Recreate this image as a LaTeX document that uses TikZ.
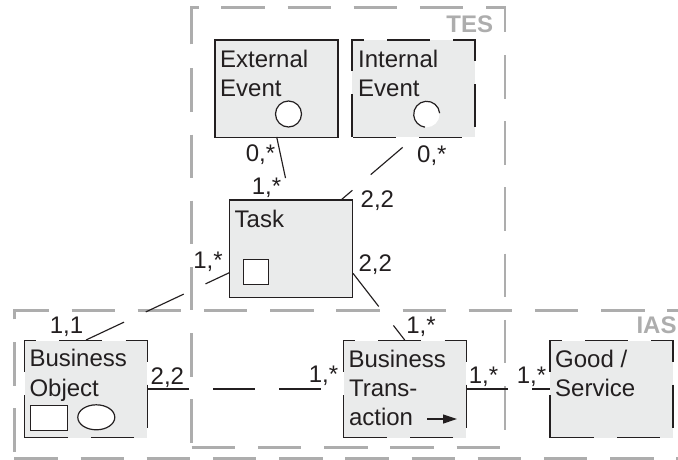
\documentclass[tikz,border=0pt]{standalone}
\usepackage{fontspec}
\setmainfont{Liberation Sans}
\usetikzlibrary{arrows.meta,shapes.geometric}
\definecolor{boxfill}{HTML}{EAEBEB}
\definecolor{zone}{HTML}{ADADAD}
\definecolor{ink}{HTML}{231F20}
\tikzset{
  x=1pt,y=-1pt,
  boxbg/.style={fill=boxfill,draw=none,inner sep=0pt,minimum width=122.6pt,minimum height=97pt,anchor=north west},
  solidline/.style={draw=ink,line width=1.2pt},
  dashline/.style={draw=ink,line width=1.2pt,dash pattern=on 43pt off 23.2pt},
  link/.style={draw=ink,line width=1.15pt,dash pattern=on 42pt off 24pt},
  zoneline/.style={draw=zone,line width=2.6pt,dash pattern=on 43.5pt off 22.7pt},
  txt/.style={anchor=base west,inner sep=0pt,text=ink,font=\fontsize{24}{28}\selectfont},
  zonetxt/.style={anchor=base west,inner sep=0pt,text=zone,font=\fontsize{24}{28}\selectfont\bfseries},
  icon/.style={fill=white,draw=ink,line width=1.2pt,inner sep=0pt},
}
\begin{document}
\begin{tikzpicture}
\useasboundingbox (0,0) rectangle (678,459);
% zones
\draw[zoneline] (191.7,44.3) -- (191.7,7.7) -- (505,7.7) -- (505,432);
\draw[zoneline] (191.7,68.3) -- (191.7,443);
\draw[zoneline] (191.7,447.7) -- (502,447.7);
\draw[zoneline] (14.3,451.7) -- (14.3,310.3) -- (682,310.3);
\draw[zoneline] (14.3,458.3) -- (682,458.3);
\node[zonetxt] (tes) at (446.2,32) {TES};
\node[zonetxt] (ias) at (636.3,333.6) {IAS};
% boxes
\node[boxbg] (ext) at (215,40) {};
\node[boxbg] (int) at (352,40) {};
\node[boxbg] (task) at (229.3,200) {};
\node[boxbg] (bo) at (24.3,340.3) {};
\node[boxbg] (bt) at (343.3,340.3) {};
\node[boxbg] (gs) at (550,340.3) {};
\draw[solidline] (ext.south west) rectangle (ext.north east);
\draw[solidline] (task.south west) rectangle (task.north east);
\foreach \b in {int,bo,bt,gs}{
  \draw[dashline] (\b.south west) -- (\b.north west) -- (\b.north east) -- (\b.south east) -- (\b.south west);
}
% connector ends
\coordinate (extA) at (276.7,137);
\coordinate (taskA) at (290.2,200);
\coordinate (intA) at (414.8,137);
\coordinate (taskB) at (341,200);
\coordinate (boA) at (86,340);
\coordinate (taskC) at (229.3,272.7);
\coordinate (taskD) at (353,273.3);
\coordinate (btA) at (404.7,340);
\coordinate (boB) at (bo.east);
\coordinate (btB) at (bt.west);
\coordinate (btC) at (bt.east);
\coordinate (gsB) at (gs.west);
\draw[link] (extA) -- (taskA);
\draw[link,dash phase=50pt] (intA) -- (taskB);
\draw[link] (boA) -- (taskC);
\draw[link] (taskD) -- (btA);
\draw[link] (boB) -- (btB);
\draw[link] (btC) -- (gsB);
% icons
\node[icon,circle,minimum size=26pt] (extc) at (288.5,114) {};
\node[circle,fill=white,inner sep=0pt,minimum size=26pt] (intc) at (426.5,114.3) {};
\draw[solidline] (intc.5) arc[start angle=5,end angle=262,radius=13pt];
\node[icon,minimum width=25pt,minimum height=25pt] (tasks) at (256.2,272.2) {};
\node[icon,minimum width=37pt,minimum height=25pt] (bor) at (49.2,418.2) {};
\node[icon,ellipse,minimum width=37pt,minimum height=25pt] (boe) at (96.3,417.3) {};
\coordinate (arrA) at (427.3,419);
\coordinate (arrB) at (457,419);
\draw[solidline,-{Triangle[length=14pt,width=9pt]}] (arrA) -- (arrB);
% box text
\node[txt] (t1) at (220,67.2) {External};
\node[txt] (t2) at (220,96.5) {Event};
\node[txt] (t3) at (358,67.2) {Internal};
\node[txt] (t4) at (358,96.5) {Event};
\node[txt] (t5) at (234.5,227.5) {Task};
\node[txt] (t6) at (29.3,366.5) {Business};
\node[txt] (t7) at (29.3,396) {Object};
\node[txt] (t8) at (348.3,367) {Business};
\node[txt] (t9) at (348.8,396.3) {Trans-};
\node[txt] (t10) at (348.8,425.8) {action};
\node[txt] (t11) at (555,367) {Good /};
\node[txt] (t12) at (555,396.3) {Service};
% multiplicities
\node[txt] (m1) at (245.7,161) {0,*};
\node[txt] (m2) at (251.7,194.3) {1,*};
\node[txt] (m3) at (360.5,207.6) {2,2};
\node[txt] (m4) at (417,162.6) {0,*};
\node[txt] (m5) at (193.2,268.6) {1,*};
\node[txt] (m6) at (49.7,333.6) {1,1};
\node[txt] (m7) at (150.5,384.3) {2,2};
\node[txt] (m8) at (308.7,382) {1,*};
\node[txt] (m9) at (358.3,271.3) {2,2};
\node[txt] (m10) at (406.2,333) {1,*};
\node[txt] (m11) at (468.7,383) {1,*};
\node[txt] (m12) at (516.7,383) {1,*};
\end{tikzpicture}
\end{document}
